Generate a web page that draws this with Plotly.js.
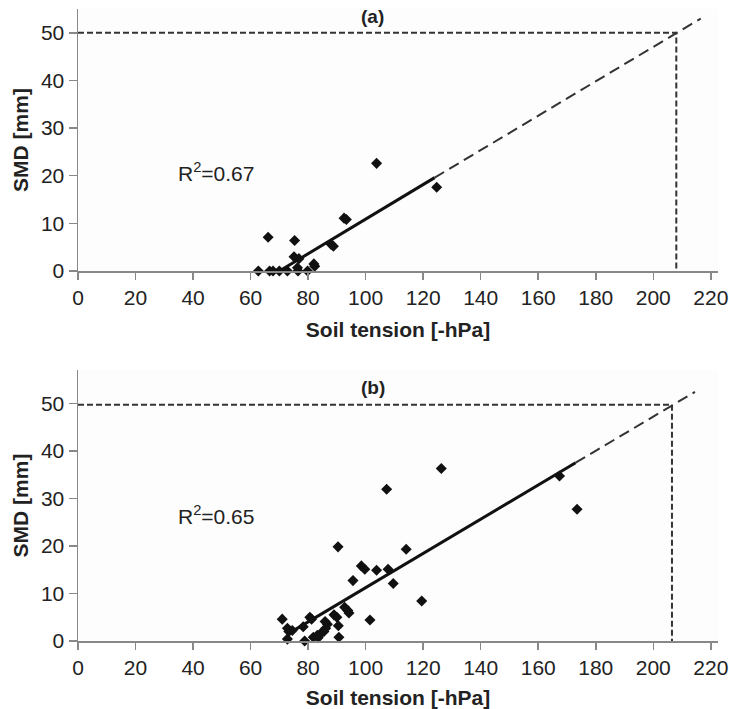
<!DOCTYPE html>
<html>
<head>
<meta charset="utf-8">
<script src="https://cdn.plot.ly/plotly-3.0.1.min.js"></script>
<style>html,body{margin:0;padding:0;background:#fff;}#chart{width:729px;height:709px;}</style>
</head>
<body>
<div id="chart"></div>
<script>
// Panel (a) observations
const tensionA = [62.7, 66.6, 67.8, 70.0, 72.8, 76.5, 79.8, 66.1, 75.3, 75.1, 76.8, 76.3, 82.0, 82.3, 88.0, 88.8, 92.5, 93.3, 103.8, 124.7];
const smdA     = [0,    0,    0,    0,    0,    0,    0,    7.1,  6.4,  3.0,  2.6,  0.7,  1.5,  1.0,  5.6,  5.2,  11.1, 10.8, 22.6,  17.6];
// Panel (b) observations
const tensionB = [126.3, 107.3, 90.4, 114.1, 98.5, 99.7, 103.8, 107.8, 95.6, 109.6, 119.5, 92.7, 93.8, 94.2, 101.5, 71.0, 72.8, 73.3, 72.8, 78.8, 80.6, 81.2, 78.3, 89.0, 90.0, 90.5, 90.7, 81.8, 83.2, 84.4, 85.5, 86.1, 86.7, 85.9, 167.4, 173.5, 74.5, 83.5];
const smdB     = [36.3,  31.9,  19.8, 19.3,  15.8, 15.1, 14.9,  15.1,  12.7, 12.1,  8.4,   7.1,  6.4,  5.9,  4.4,   4.6,  2.7,  2.0,  0.4,  0,    5.0,  4.6,  3.0,  5.5,  5.0,  3.2,  0.8,  0.8,  1.2,  1.6,  2.0,  2.7,  3.5,  4.1,  34.7,  27.7,  2.2,  0.7];
// Regression fits (solid) and extrapolations (dashed)
const fitAx = [70, 124],    fitAy = [0, 19.6];
const extAx = [124, 216.5], extAy = [19.6, 53.0];
const fitBx = [73, 173],    fitBy = [1.5, 37.5];
const extBx = [173, 214.5], extBy = [37.5, 52.4];
// Threshold guide lines (SMD = 50 mm)
const refAx = [0, 208, 208],     refAy = [50, 50, 0];
const refBx = [0, 206.5, 206.5], refBy = [49.7, 49.7, 0];
// Labels
const r2A = 'R<sup>2</sup>=0.67', r2B = 'R<sup>2</sup>=0.65';
const panelLabels = ['(a)', '(b)'];
const xTitle = 'Soil tension [-hPa]', yTitle = 'SMD [mm]';
const xTicks = [0,20,40,60,80,100,120,140,160,180,200,220];
const yTicks = [0,10,20,30,40,50];

const mk = {symbol: 'diamond', size: 8.5, color: '#111'};
function traces(xa, ya, tx, ty, fx, fy, ex, ey, rx, ry) {
  return [
    {x: rx, y: ry, xaxis: xa, yaxis: ya, mode: 'lines', line: {color: '#333', width: 2, dash: '6px,3px'}, hoverinfo: 'skip'},
    {x: ex, y: ey, xaxis: xa, yaxis: ya, mode: 'lines', line: {color: '#333', width: 2, dash: '11px,6px'}, hoverinfo: 'skip'},
    {x: fx, y: fy, xaxis: xa, yaxis: ya, mode: 'lines', line: {color: '#111', width: 3}},
    {x: tx, y: ty, xaxis: xa, yaxis: ya, mode: 'markers', marker: mk, cliponaxis: false}
  ];
}
const data = [].concat(
  traces('x', 'y', tensionA, smdA, fitAx, fitAy, extAx, extAy, refAx, refAy),
  traces('x2', 'y2', tensionB, smdB, fitBx, fitBy, extBx, extBy, refBx, refBy)
);

const FF = 'Liberation Sans, Arial, sans-serif';
const tickFont = {family: FF, size: 21, color: '#222'};
const titleFont = {family: FF, size: 21, color: '#222', weight: 'bold'};
function xax(anchor) {
  return {anchor: anchor, domain: [0, 1], range: [0, 222.5], tickvals: xTicks, showline: true, linecolor: '#888', linewidth: 1.5,
    ticks: 'outside', ticklen: 7, tickcolor: '#888', tickwidth: 1.5, showgrid: false, zeroline: false, tickfont: tickFont,
    title: {text: '<b>' + xTitle + '</b>', font: titleFont, standoff: 14}};
}
function yax(anchor, dom, top) {
  return {anchor: anchor, domain: dom, range: [0, top], tickvals: yTicks, showline: true, linecolor: '#888', linewidth: 1.5,
    ticks: 'outside', ticklen: 8, tickcolor: '#888', tickwidth: 1.5, showgrid: false, zeroline: false, tickfont: tickFont,
    title: {text: '<b>' + yTitle + '</b>', font: titleFont, standoff: 6}};
}
const layout = {
  width: 729, height: 709,
  margin: {l: 78, r: 11, t: 9, b: 68},
  paper_bgcolor: '#fff', plot_bgcolor: '#fdfdfd',
  showlegend: false,
  xaxis: xax('y'), yaxis: yax('x', [0.5854, 1], 55),
  xaxis2: xax('y2'), yaxis2: yax('x2', [0, 0.4288], 57),
  annotations: [
    {xref: 'x', yref: 'y', x: 48, y: 20.8, text: r2A, showarrow: false, font: {family: FF, size: 21, color: '#222'}},
    {xref: 'x2', yref: 'y2', x: 48, y: 26.5, text: r2B, showarrow: false, font: {family: FF, size: 21, color: '#222'}},
    {xref: 'x', yref: 'y', x: 102.5, y: 53.4, text: '<b>' + panelLabels[0] + '</b>', showarrow: false, font: {family: FF, size: 19, color: '#222'}},
    {xref: 'x2', yref: 'y2', x: 102.5, y: 53.4, text: '<b>' + panelLabels[1] + '</b>', showarrow: false, font: {family: FF, size: 19, color: '#222'}}
  ]
};
Plotly.newPlot('chart', data, layout, {displayModeBar: false, staticPlot: true});
</script>
</body>
</html>
